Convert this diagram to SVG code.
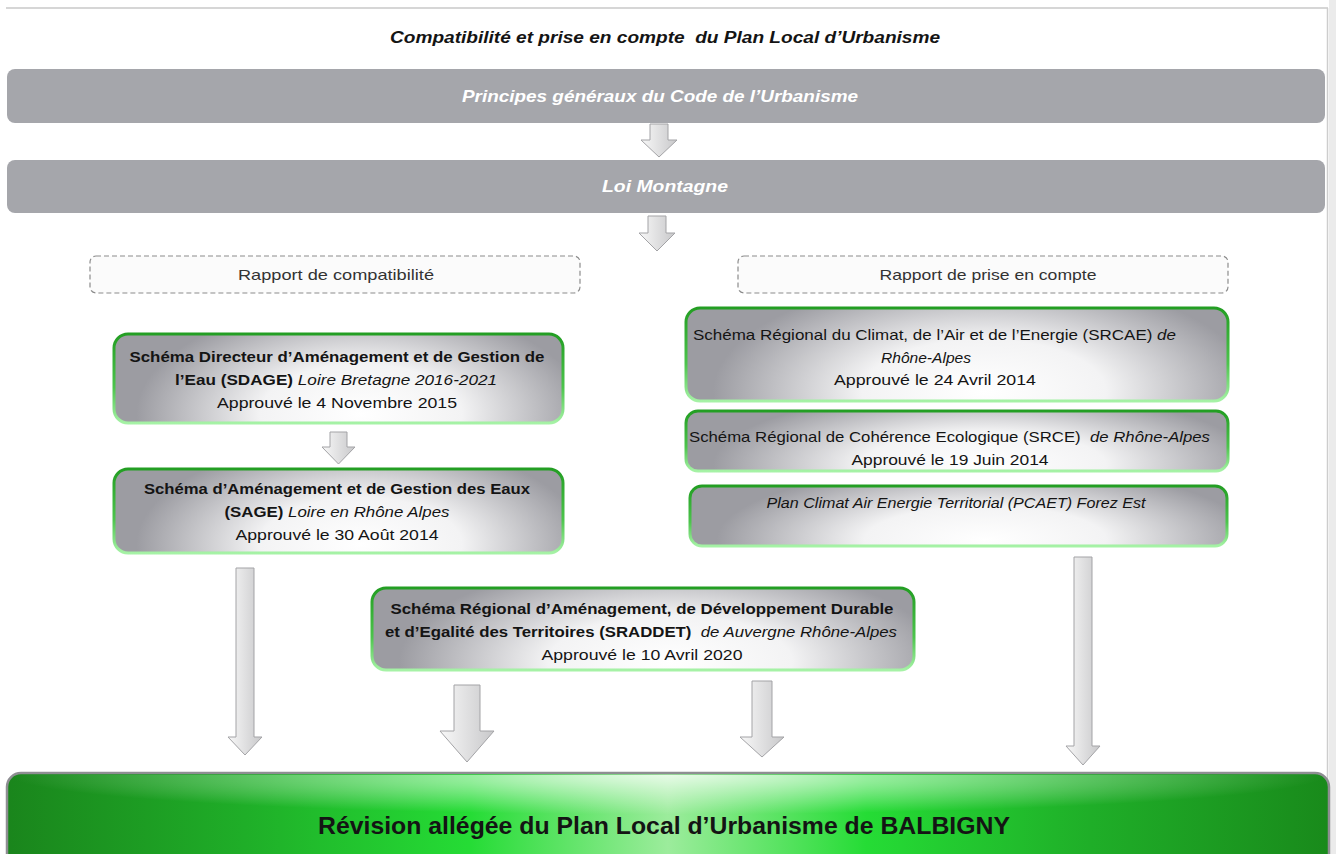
<svg xmlns="http://www.w3.org/2000/svg" width="1336" height="854" viewBox="0 0 1336 854">
<defs>
<radialGradient id="gBox" cx="0.55" cy="0.9" r="0.5" fx="0.55" fy="0.9" gradientTransform="translate(0.55,0.9) scale(1,2.5) translate(-0.55,-0.9)">
<stop offset="0" stop-color="#ffffff"/>
<stop offset="0.45" stop-color="#f3f3f4"/>
<stop offset="1" stop-color="#9c9ca2"/>
</radialGradient>
<linearGradient id="gStroke" x1="0" y1="0" x2="0" y2="1">
<stop offset="0" stop-color="#239e23"/>
<stop offset="0.6" stop-color="#4cc44c"/>
<stop offset="1" stop-color="#a6f2a6"/>
</linearGradient>
<linearGradient id="gArrow" x1="0" y1="0" x2="1" y2="0">
<stop offset="0" stop-color="#f8f8f8"/>
<stop offset="1" stop-color="#c8c8ca"/>
</linearGradient>
<linearGradient id="gGreen" x1="0" y1="0" x2="1" y2="0">
<stop offset="0" stop-color="#1a851c"/>
<stop offset="0.18" stop-color="#1fae28"/>
<stop offset="0.35" stop-color="#25dc35"/>
<stop offset="0.5" stop-color="#9cec9c"/>
<stop offset="0.65" stop-color="#25dc35"/>
<stop offset="0.82" stop-color="#1fae28"/>
<stop offset="1" stop-color="#198a1b"/>
</linearGradient>
<radialGradient id="gGlow" cx="50%" cy="0%" r="50%" fx="50%" fy="0%">
<stop offset="0" stop-color="#ffffff" stop-opacity="0.75"/>
<stop offset="1" stop-color="#ffffff" stop-opacity="0"/>
</radialGradient>
</defs>
<style>
text{font-family:"Liberation Sans",Arial,sans-serif;fill:#141414;}
.bar{fill:#a5a6ab;}
.barT{fill:#ffffff;font-weight:bold;font-style:italic;font-size:17px;}
.dash{fill:#fbfbfb;stroke:#8c8c8c;stroke-width:1.2;stroke-dasharray:5 3;}
.rap{font-size:14.5px;fill:#333;}
.box{fill:url(#gBox);stroke:url(#gStroke);stroke-width:3;}
.t{font-size:15px;}
.b{font-weight:bold;}
.i{font-style:italic;}
.arr{fill:url(#gArrow);stroke:#a3a3a6;stroke-width:1;}
</style>
<rect x="0" y="0" width="1336" height="854" fill="#ffffff"/>
<rect x="1329" y="0" width="7" height="854" fill="#ebebeb"/>
<line x1="6" y1="8" x2="1328" y2="8" stroke="#d6d6d6" stroke-width="2"/>
<line x1="1327.5" y1="8" x2="1327.5" y2="854" stroke="#cdcdcd" stroke-width="1.5"/>

<g id="title">
<text x="665" y="43" text-anchor="middle" font-size="16" font-weight="bold" font-style="italic" textLength="550" lengthAdjust="spacingAndGlyphs" xml:space="preserve">Compatibilité et prise en compte  du Plan Local d’Urbanisme</text>
</g>

<g id="principes">
<rect class="bar" x="7" y="69" width="1318" height="54" rx="8"/>
<text class="barT" x="660" y="102" text-anchor="middle" textLength="396" lengthAdjust="spacingAndGlyphs">Principes généraux du Code de l’Urbanisme</text>
</g>

<g id="loi-montagne">
<rect class="bar" x="7" y="160" width="1318" height="53" rx="8"/>
<text class="barT" x="665" y="192" text-anchor="middle" textLength="126" lengthAdjust="spacingAndGlyphs">Loi Montagne</text>
</g>

<g id="rapport-compatibilite">
<rect class="dash" x="90" y="256" width="490" height="37" rx="6"/>
<text class="rap" x="336" y="280" text-anchor="middle" textLength="196" lengthAdjust="spacingAndGlyphs">Rapport de compatibilité</text>
</g>

<g id="rapport-prise-en-compte">
<rect class="dash" x="738" y="256" width="490" height="37" rx="6"/>
<text class="rap" x="988" y="280" text-anchor="middle" textLength="217" lengthAdjust="spacingAndGlyphs">Rapport de prise en compte</text>
</g>

<g id="sdage">
<rect class="box" x="114" y="334" width="449" height="89" rx="14"/>
<text class="t b" x="337" y="362" text-anchor="middle" textLength="415" lengthAdjust="spacingAndGlyphs">Schéma Directeur d’Aménagement et de Gestion de</text>
<text class="t" x="336" y="385" text-anchor="middle" textLength="322" lengthAdjust="spacingAndGlyphs"><tspan class="b">l’Eau (SDAGE) </tspan><tspan class="i">Loire Bretagne 2016-2021</tspan></text>
<text class="t" x="337" y="408" text-anchor="middle" textLength="240" lengthAdjust="spacingAndGlyphs">Approuvé le 4 Novembre 2015</text>
</g>

<g id="sage">
<rect class="box" x="114" y="469" width="449" height="84" rx="14"/>
<text class="t b" x="337" y="494" text-anchor="middle" textLength="386" lengthAdjust="spacingAndGlyphs">Schéma d’Aménagement et de Gestion des Eaux</text>
<text class="t" x="337" y="517" text-anchor="middle" textLength="225" lengthAdjust="spacingAndGlyphs"><tspan class="b">(SAGE) </tspan><tspan class="i">Loire en Rhône Alpes</tspan></text>
<text class="t" x="337" y="540" text-anchor="middle" textLength="203" lengthAdjust="spacingAndGlyphs">Approuvé le 30 Août 2014</text>
</g>

<g id="srcae">
<rect class="box" x="686" y="308" width="542" height="93" rx="14"/>
<text class="t" x="693" y="340" textLength="483" lengthAdjust="spacingAndGlyphs">Schéma Régional du Climat, de l’Air et de l’Energie (SRCAE) <tspan class="i">de</tspan></text>
<text class="t i" x="926" y="363" text-anchor="middle" textLength="90" lengthAdjust="spacingAndGlyphs">Rhône-Alpes</text>
<text class="t" x="935" y="385" text-anchor="middle" textLength="202" lengthAdjust="spacingAndGlyphs">Approuvé le 24 Avril 2014</text>
</g>

<g id="srce">
<rect class="box" x="686" y="411" width="542" height="60" rx="12"/>
<text class="t" x="689" y="442" textLength="521" lengthAdjust="spacingAndGlyphs" xml:space="preserve">Schéma Régional de Cohérence Ecologique (SRCE)  <tspan class="i">de Rhône-Alpes</tspan></text>
<text class="t" x="950" y="465" text-anchor="middle" textLength="197" lengthAdjust="spacingAndGlyphs">Approuvé le 19 Juin 2014</text>
</g>

<g id="pcaet">
<rect class="box" x="690" y="486" width="537" height="60" rx="12"/>
<text class="t i" x="956" y="508" text-anchor="middle" textLength="379" lengthAdjust="spacingAndGlyphs">Plan Climat Air Energie Territorial (PCAET) Forez Est</text>
</g>

<g id="sraddet">
<rect class="box" x="372" y="588" width="542" height="82" rx="14"/>
<text class="t b" x="642" y="614" text-anchor="middle" textLength="503" lengthAdjust="spacingAndGlyphs">Schéma Régional d’Aménagement, de Développement Durable</text>
<text class="t" x="641" y="637" text-anchor="middle" textLength="512" lengthAdjust="spacingAndGlyphs" xml:space="preserve"><tspan class="b">et d’Egalité des Territoires (SRADDET)  </tspan><tspan class="i">de Auvergne Rhône-Alpes</tspan></text>
<text class="t" x="642" y="660" text-anchor="middle" textLength="201" lengthAdjust="spacingAndGlyphs">Approuvé le 10 Avril 2020</text>
</g>

<g id="connectors">
<polygon class="arr" points="650,124 668,124 668,140 677,140 659,157 641,140 650,140"/>
<polygon class="arr" points="648,216 666,216 666,233 675,233 657,251 639,233 648,233"/>
<polygon class="arr" points="330,432 347,432 347,447 355,447 338.5,464 322,447 330,447"/>
<polygon class="arr" points="236,568 254,568 254,737 262,737 245,755 228,737 236,737"/>
<polygon class="arr" points="454,685 480,685 480,731 494,731 467,762 440,731 454,731"/>
<polygon class="arr" points="752,681 772,681 772,737 784,737 762,757 740,737 752,737"/>
<polygon class="arr" points="1074,557 1092,557 1092,746 1100,746 1083,765 1066,746 1074,746"/>
</g>

<g id="revision">
<rect x="7" y="773" width="1322" height="95" rx="14" fill="url(#gGreen)" stroke="#8e8e92" stroke-width="2.5"/>
<rect x="9" y="775" width="1318" height="79" rx="12" fill="url(#gGlow)"/>
<text x="664" y="834" text-anchor="middle" font-size="24" font-weight="bold" textLength="692" lengthAdjust="spacingAndGlyphs">Révision allégée du Plan Local d’Urbanisme de BALBIGNY</text>
</g>
</svg>
